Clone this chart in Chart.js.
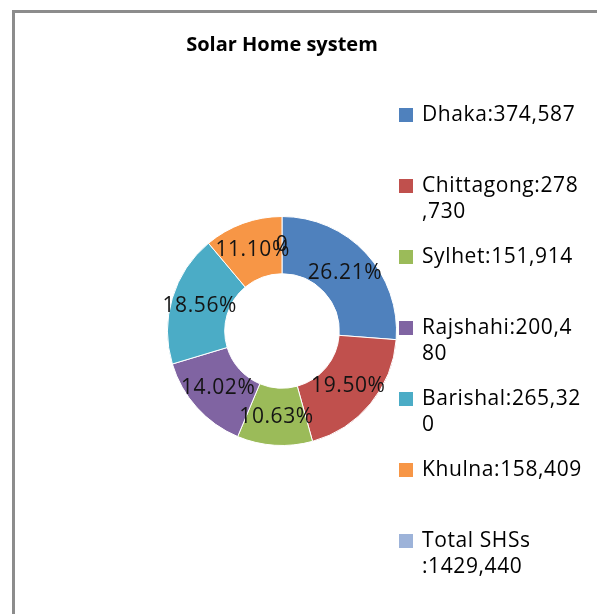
<!DOCTYPE html>
<html>
<head>
<meta charset="utf-8">
<script src="https://cdn.jsdelivr.net/npm/chart.js@4/dist/chart.umd.min.js"></script>
<style>
  html, body { margin: 0; padding: 0; background: #fff; }
  .frame {
    position: absolute; left: 12px; top: 10px; right: 0; bottom: 0;
    border-left: 3px solid #8c8c8c; border-top: 3px solid #8c8c8c;
  }
  .holder { position: absolute; left: 0; top: 0; width: 597px; height: 614px; }
</style>
</head>
<body>
<div class="frame"></div>
<div class="holder"><canvas id="shs"></canvas></div>
<script>
// installed solar home systems per division
const regions = ["Dhaka", "Chittagong", "Sylhet", "Rajshahi", "Barishal", "Khulna", "Total SHSs "];
const installed = ["374,587", "278,730", "151,914", "200,480", "265,320", "158,409", "1429,440"];
const shares = [26.21, 19.50, 10.63, 14.02, 18.56, 11.10, 0];
const sliceColors = ["#4f81bd", "#c0504d", "#9bbb59", "#8064a2", "#4bacc6", "#f79646", "#9db3d9"];

const FONT = "'Open Sans'";

// break a legend entry the way the sheet does: on spaces first, then mid-word
const wrapText = (ctx, text, maxWidth) => {
   const fits = (s) => ctx.measureText(s).width <= maxWidth;
   const lines = [];
   let line = "";
   text.split(" ").forEach((word) => {
      const joined = line ? line + " " + word : word;
      if (fits(joined)) {
         line = joined;
         return;
      }
      if (line) lines.push(line);
      line = word;
      while (!fits(line)) {
         let cut = line.length - 1;
         while (cut > 1 && !fits(line.slice(0, cut))) cut--;
         lines.push(line.slice(0, cut));
         line = line.slice(cut);
      }
   });
   if (line) lines.push(line);
   return lines;
};

// percentage text in the middle of each ring segment
const sliceLabels = {
   id: "sliceLabels",
   afterDatasetsDraw(chart) {
      const ctx = chart.ctx;
      const values = chart.data.datasets[0].data;
      ctx.save();
      ctx.font = `21px ${FONT}`;
      ctx.letterSpacing = "0.6px";
      ctx.fillStyle = "#141414";
      ctx.textAlign = "center";
      ctx.textBaseline = "middle";
      chart.getDatasetMeta(0).data.forEach((arc, i) => {
         const pos = arc.tooltipPosition();
         const v = values[i];
         ctx.fillText(v === 0 ? "0" : `${v.toFixed(2)}%`, pos.x, pos.y);
      });
      ctx.restore();
   },
};

// legend column on the right, evenly spaced entries
const sideLegend = {
   id: "sideLegend",
   afterDraw(chart) {
      const ctx = chart.ctx;
      const colors = chart.data.datasets[0].backgroundColor;
      ctx.save();
      ctx.font = `21px ${FONT}`;
      ctx.letterSpacing = "0.6px";
      ctx.textBaseline = "middle";
      chart.data.labels.forEach((label, i) => {
         const y = 115 + i * 71;
         ctx.fillStyle = colors[i];
         ctx.fillRect(399, y - 7, 14, 14);
         ctx.fillStyle = "#000";
         wrapText(ctx, label, 161).forEach((line, k) => {
            ctx.fillText(line, 422, y + k * 26);
         });
      });
      ctx.restore();
   },
};

const config = {
   type: "doughnut",
   data: {
      labels: regions.map((r, i) => `${r}:${installed[i]}`),
      datasets: [
         {
            data: shares,
            backgroundColor: sliceColors,
            borderColor: "#ffffff",
            borderWidth: 1,
         },
      ],
   },
   options: {
      responsive: true,
      maintainAspectRatio: false,
      animation: false,
      events: [],
      cutout: "50%",
      layout: { padding: { left: 120, right: 153, top: 0, bottom: 168 } },
      plugins: {
         legend: { display: false },
         tooltip: { enabled: false },
         title: {
            display: true,
            text: "Solar Home system",
            color: "#000",
            font: { family: "Open Sans", size: 20, weight: "bold" },
            padding: { top: 33, bottom: 159 },
         },
      },
   },
   plugins: [sliceLabels, sideLegend],
};

new Chart(document.getElementById("shs"), config);
</script>
</body>
</html>
